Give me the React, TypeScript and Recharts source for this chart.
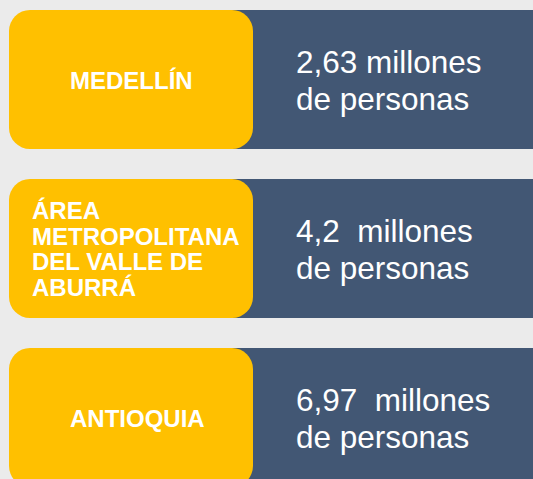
import React from "react";
import { BarChart, Bar, XAxis, YAxis } from "recharts";

// Regions (label lines as shown in the yellow boxes)
const regions = ["Medellín", "Área Metropolitana del Valle de Aburrá", "Antioquia"];
const regionLines = [
  ["MEDELLÍN"],
  ["ÁREA", "METROPOLITANA", "DEL VALLE DE", "ABURRÁ"],
  ["ANTIOQUIA"],
];
// Population in millions
const populationMillions = [2.63, 4.2, 6.97];
const valueLines = [
  ["2,63 millones", "de personas"],
  ["4,2  millones", "de personas"],
  ["6,97  millones", "de personas"],
];
// Each row spans the full track
const track = [1, 1, 1];

const data = regions.map((name, i) => ({
  name,
  track: track[i],
  population: populationMillions[i],
  lines: regionLines[i],
  valueLines: valueLines[i],
}));

const BLUE = "#425774";
const YELLOW = "#FFC000";
const FONT = "'Liberation Sans', Arial, sans-serif";

const RowShape = (props: any) => {
  const { x, y, width, height, payload } = props;
  const cy = y + height / 2;
  const lines: string[] = payload.lines;
  const vl: string[] = payload.valueLines;
  const boxW = 244;
  const lh = 25.7;
  const single = lines.length === 1;
  const lx = single ? x + 61 : x + 23;
  const firstBase = cy + 9 - ((lines.length - 1) * lh) / 2;
  const blueStart = x + boxW / 2;
  return (
    <g>
      <rect x={blueStart} y={y} width={x + width - blueStart} height={height} fill={BLUE} />
      <rect x={x} y={y} width={boxW} height={height} rx={21} ry={21} fill={YELLOW} />
      <text fontFamily={FONT} fontSize={24} fontWeight="bold" fill="#FFFFFF">
        {lines.map((ln, i) => (
          <tspan key={i} x={lx} y={firstBase + i * lh}>
            {ln}
          </tspan>
        ))}
      </text>
      <text fontFamily={FONT} fontSize={31.5} fill="#FFFFFF" style={{ whiteSpace: "pre" }}>
        <tspan x={x + 287} y={cy - 7}>{vl[0]}</tspan>
        <tspan x={x + 287} y={cy + 30.5}>{vl[1]}</tspan>
      </text>
    </g>
  );
};

export default function App() {
  return (
    <div
      style={{
        position: "fixed",
        left: 0,
        top: 0,
        width: 533,
        height: 479,
        overflow: "hidden",
        background: "#EBEBEB",
      }}
    >
      <div style={{ marginTop: -5 }}>
        <BarChart
          width={533}
          height={507}
          data={data}
          layout="vertical"
          margin={{ top: 0, right: 0, bottom: 0, left: 9 }}
        >
          <XAxis type="number" domain={[0, 1]} hide />
          <YAxis type="category" dataKey="name" hide />
          <Bar dataKey="track" barSize={139} isAnimationActive={false} shape={RowShape} />
        </BarChart>
      </div>
    </div>
  );
}
